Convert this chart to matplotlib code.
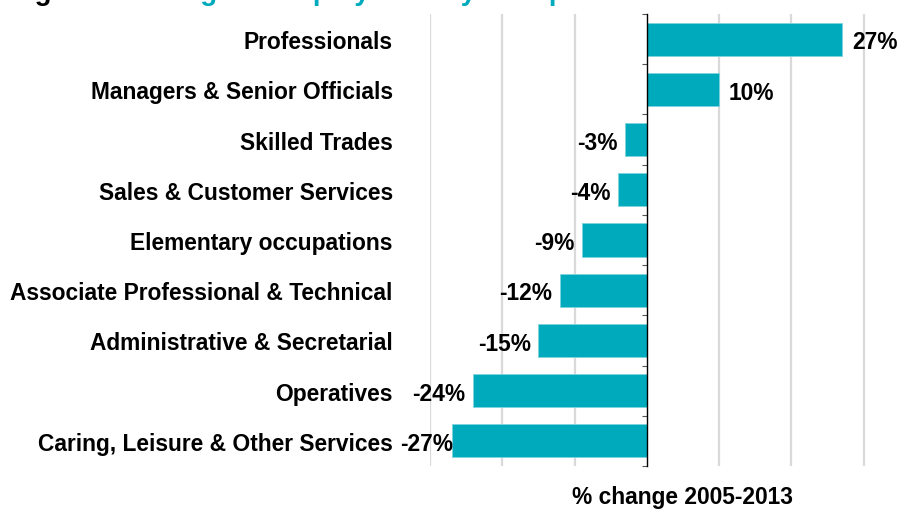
import numpy as np
import matplotlib
matplotlib.use('Agg')
import matplotlib.pyplot as plt

plt.rcParams['font.family'] = ['Liberation Sans', 'DejaVu Sans']

occupations = ['Professionals', 'Managers & Senior Officials', 'Skilled Trades',
               'Sales & Customer Services', 'Elementary occupations',
               'Associate Professional & Technical', 'Administrative & Secretarial',
               'Operatives', 'Caring, Leisure & Other Services']
change = [27, 10, -3, -4, -9, -12, -15, -24, -27]
grid_ticks = [-30, -20, -10, 10, 20, 30, 40]

teal = '#00AABD'
W, H = 899, 510
fs = 16.4

fig = plt.figure(figsize=(W / 100, H / 100), dpi=100)
# axes spans -30..40, right part runs past the figure edge
ax = fig.add_axes([430 / W, 1 - 467 / H, (936 - 430) / W, (467 - 15) / H])
ax.set_xlim(-30, 40)

y = np.arange(len(occupations))
ax.barh(y, change, height=0.66, color=teal, edgecolor='#7fd3dd', linewidth=0.6, zorder=3)
ax.set_ylim(len(occupations) - 0.5, -0.5)

for x in grid_ticks:
    ax.axvline(x, color='#d9d9d9', linewidth=1.6, zorder=1)

for s in ['top', 'right', 'bottom']:
    ax.spines[s].set_visible(False)
ax.spines['left'].set_position(('data', 0))
ax.spines['left'].set_color('black')
ax.spines['left'].set_linewidth(1.0)
ax.spines['left'].set_zorder(4)

ax.set_xticks([])
ax.set_yticks(y)
ax.set_yticklabels(occupations, fontsize=fs, fontweight='bold')
ax.tick_params(axis='y', which='major', length=0, pad=(647 - 393) * 0.72)
ax.set_yticks(np.arange(-0.5, len(occupations)), minor=True)
ax.tick_params(axis='y', which='minor', length=3.5, color='#555555', width=0.8)

labels = []
for yi, v in zip(y, change):
    off = 7 if v > 0 else -5.5
    t = ax.annotate(f'{v}%', (v, yi), xytext=(off, -2), textcoords='offset points',
                    ha='left' if v > 0 else 'right', va='center',
                    fontsize=fs, fontweight='bold', zorder=5)
    labels.append((t, v))

ax.set_xlabel('% change 2005-2013', fontsize=fs, fontweight='bold', labelpad=14)

# title runs off the top of the image, only the descenders show
fig.text(10 / W, 1.0, 'Figure 5:', fontsize=20, fontweight='bold',
         color='black', va='baseline')
fig.text(131 / W, 1.0, 'Change in employment by occupation', fontsize=20,
         fontweight='bold', color=teal, va='baseline')

# keep negative labels clear of the category names
fig.canvas.draw()
r = fig.canvas.get_renderer()
min_left = 400
for t, v in labels:
    if v < 0:
        bb = t.get_window_extent(r)
        if bb.x0 < min_left:
            shift = (min_left - bb.x0) * 0.72
            t.set_position((-5.5 + shift, -2))

fig.savefig('out.png', dpi=100)
